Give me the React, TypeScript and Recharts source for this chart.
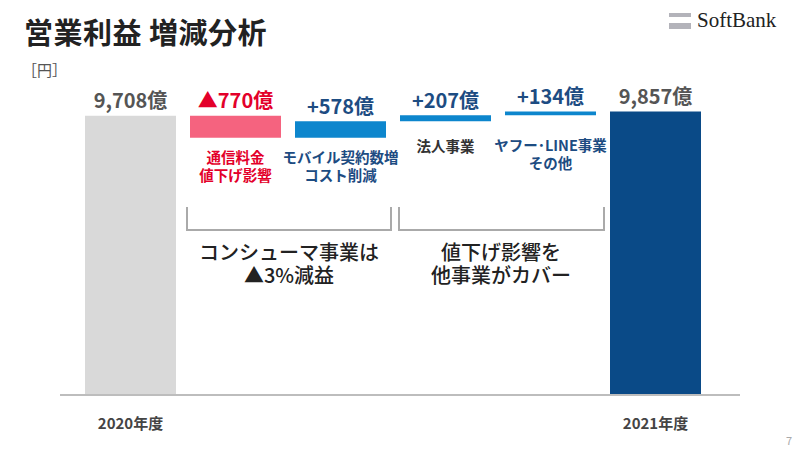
import React from "react";
import { BarChart, Bar, XAxis, YAxis, Cell, LabelList } from "recharts";

const categories = ["2020年度", "通信料金値下げ影響", "モバイル契約数増", "法人事業", "ヤフー･LINE事業その他", "2021年度"];
const tickLabels = ["2020年度", "", "", "", "", "2021年度"];
const values = [9708, -770, 578, 207, 134, 9857];
const isTotal = [true, false, false, false, false, true];
const valueLabels = ["9,708億", "▲770億", "+578億", "+207億", "+134億", "9,857億"];
const subLabels: string[][] = [[], ["通信料金", "値下げ影響"], ["モバイル契約数増", "コスト削減"], ["法人事業"], ["ヤフー･LINE事業", "その他"], []];
const barColors = ["#d9d9d9", "#f5637f", "#0d86cd", "#0d86cd", "#0d86cd", "#0a4a87"];
const valueColors = ["#555555", "#e3002a", "#1d4c82", "#1d4c82", "#1d4c82", "#555555"];
const subColors = ["#333", "#e3002a", "#1d4c82", "#333", "#1d4c82", "#333"];
const subOffsets = [0, 19, 19, 24, 29, 0];

let running = 0;
const data = categories.map((c, i) => {
  const v = values[i];
  let base = 0;
  let size = 0;
  if (isTotal[i]) {
    base = 0;
    size = v;
    running = v;
  } else if (v < 0) {
    base = running + v;
    size = -v;
    running = running + v;
  } else {
    base = running;
    size = v;
    running = running + v;
  }
  return { name: tickLabels[i], full: c, base, size, idx: i };
});

const FONT = "'Noto Sans CJK JP', 'Noto Sans', sans-serif";

const ValueLabel = (props: any) => {
  const { x, y, width, height, value } = props;
  const i = Number(value);
  const cx = Number(x) + Number(width) / 2;
  const top = Number(y);
  const bottom = Number(y) + Number(height);
  const lines = subLabels[i] || [];
  return (
    <g>
      <text x={cx} y={top - 16} textAnchor="middle" dominantBaseline="central" fill={valueColors[i]} fontSize={20} fontWeight={700} fontFamily={FONT}>
        {valueLabels[i]}
      </text>
      {lines.map((l, k) => (
        <text key={k} x={cx} y={bottom + subOffsets[i] + k * 18} textAnchor="middle" dominantBaseline="central" fill={subColors[i]} fontSize={14.5} fontWeight={700} fontFamily={FONT}>
          {l}
        </text>
      ))}
    </g>
  );
};

const Tick = (props: any) => {
  const { x, y, payload } = props;
  return (
    <text x={x} y={y} textAnchor="middle" dominantBaseline="central" fill="#444" fontSize={15} fontWeight={700} fontFamily={FONT}>
      {payload.value}
    </text>
  );
};

const noteStyle: React.CSSProperties = { position: "absolute", width: 220, textAlign: "center", fontSize: 20, fontWeight: 500, color: "#222", lineHeight: "22px", whiteSpace: "nowrap" };

export default function App() {
  return (
    <div style={{ position: "absolute", left: 0, top: 0, width: 800, height: 450, background: "#fff", fontFamily: FONT, overflow: "hidden" }}>
      <div style={{ position: "absolute", left: 24, top: 10, fontSize: 29, fontWeight: 700, color: "#222", letterSpacing: 0.5 }}>営業利益 増減分析</div>
      <div style={{ position: "absolute", left: 22, top: 59, fontSize: 15, color: "#555" }}>［円］</div>
      <div style={{ position: "absolute", left: 669, top: 13, width: 22, height: 4, background: "#b3b3ba" }} />
      <div style={{ position: "absolute", left: 669, top: 23, width: 22, height: 6, background: "#b3b3ba" }} />
      <div style={{ position: "absolute", left: 697, top: 8, fontSize: 21, color: "#222", fontFamily: "'Liberation Serif', serif" }}>SoftBank</div>
      <div style={{ position: "absolute", left: 786, top: 432, fontSize: 11, color: "#aaa" }}>7</div>

      <div style={{ position: "absolute", left: 0, top: 0 }}>
        <BarChart width={800} height={450} data={data} margin={{ top: 90, right: 60, bottom: 25, left: 60 }}>
          <XAxis dataKey="name" axisLine={{ stroke: "#bdbdbd", strokeWidth: 2 }} tickLine={false} tickSize={0} height={30} padding={{ left: 18, right: 32 }} tick={<Tick />} tickMargin={27} interval={0} />
          <YAxis hide domain={[0, 10600]} />
          <Bar dataKey="base" stackId="a" fill="transparent" isAnimationActive={false} barSize={91} />
          <Bar dataKey="size" stackId="a" isAnimationActive={false} barSize={91}>
            {data.map((d, i) => (
              <Cell key={i} fill={barColors[i]} />
            ))}
            <LabelList dataKey="idx" content={<ValueLabel />} />
          </Bar>
        </BarChart>
      </div>

      <svg width={800} height={450} style={{ position: "absolute", left: 0, top: 0, pointerEvents: "none" }}>
        <polyline points="187,207 187,230 391,230 391,207" fill="none" stroke="#aaa" strokeWidth={2} />
        <polyline points="399,207 399,230 604,230 604,207" fill="none" stroke="#aaa" strokeWidth={2} />
      </svg>
      <div style={{ ...noteStyle, left: 179, top: 241 }}>コンシューマ事業は</div>
      <div style={{ ...noteStyle, left: 179, top: 264 }}>▲3%減益</div>
      <div style={{ ...noteStyle, left: 391, top: 241 }}>値下げ影響を</div>
      <div style={{ ...noteStyle, left: 391, top: 264 }}>他事業がカバー</div>
    </div>
  );
}
